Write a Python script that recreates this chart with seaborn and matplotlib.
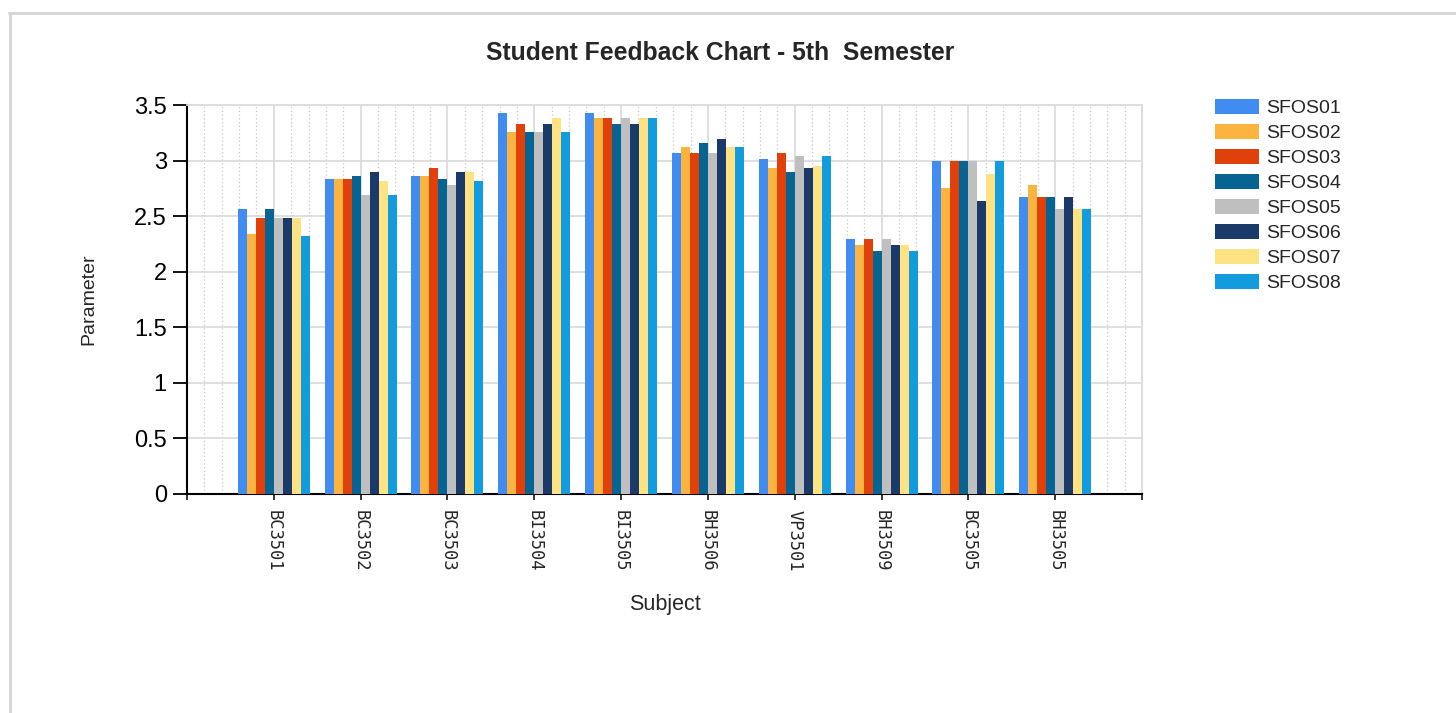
import pandas as pd
import matplotlib.pyplot as plt
import seaborn as sns
from matplotlib.lines import Line2D
from matplotlib.ticker import MultipleLocator, FormatStrFormatter

subjects = ["BC3501", "BC3502", "BC3503", "BI3504", "BI3505",
            "BH3506", "VP3501", "BH3509", "BC3505", "BH3505"]

series_names = ["SFOS01", "SFOS02", "SFOS03", "SFOS04",
                "SFOS05", "SFOS06", "SFOS07", "SFOS08"]

sfos01 = [2.56, 2.83, 2.86, 3.43, 3.43, 3.07, 3.01, 2.29, 3.00, 2.67]
sfos02 = [2.34, 2.83, 2.86, 3.26, 3.38, 3.12, 2.93, 2.24, 2.75, 2.78]
sfos03 = [2.48, 2.83, 2.93, 3.33, 3.38, 3.07, 3.07, 2.29, 3.00, 2.67]
sfos04 = [2.56, 2.86, 2.83, 3.26, 3.33, 3.16, 2.90, 2.19, 3.00, 2.67]
sfos05 = [2.48, 2.69, 2.78, 3.26, 3.38, 3.07, 3.04, 2.29, 3.00, 2.56]
sfos06 = [2.48, 2.90, 2.90, 3.33, 3.33, 3.19, 2.93, 2.24, 2.64, 2.67]
sfos07 = [2.48, 2.82, 2.90, 3.38, 3.38, 3.12, 2.95, 2.24, 2.88, 2.56]
sfos08 = [2.32, 2.69, 2.82, 3.26, 3.38, 3.12, 3.04, 2.19, 3.00, 2.56]

colors = ["#418CF0", "#FCB441", "#E0400A", "#056492",
          "#BFBFBF", "#1A3B69", "#FFE382", "#129CDD"]


def build_frame():
    all_values = [sfos01, sfos02, sfos03, sfos04, sfos05, sfos06, sfos07, sfos08]
    rows = []
    for name, values in zip(series_names, all_values):
        for subj, v in zip(subjects, values):
            rows.append({"Subject": subj, "Series": name, "Parameter": v})
    return pd.DataFrame(rows)


def draw(df):
    sns.set_style("white")
    plt.rcParams["font.family"] = ["Liberation Sans", "DejaVu Sans"]

    fig = plt.figure(figsize=(14.56, 7.13), dpi=100)
    ax = fig.add_axes([187 / 1456, 1 - 494 / 713, 955 / 1456, 389 / 713])

    sns.barplot(data=df, x="Subject", y="Parameter", hue="Series",
                order=subjects, hue_order=series_names, palette=colors,
                saturation=1, width=0.83, linewidth=0, errorbar=None,
                ax=ax, zorder=3)

    ax.set_xlim(-1, 10)
    ax.set_ylim(0, 3.5)

    # grid
    ax.yaxis.set_major_locator(MultipleLocator(0.5))
    ax.yaxis.set_major_formatter(FormatStrFormatter("%g"))
    ax.set_xticks(range(-1, 11))
    ax.set_xticklabels([""] + subjects + [""])
    ax.xaxis.set_minor_locator(MultipleLocator(0.2))
    ax.set_axisbelow(True)
    ax.grid(which="major", axis="both", color="#dcdcdc", linewidth=1.3, zorder=0)
    ax.grid(which="minor", axis="x", color="#c8c8c8", linestyle=(0, (1, 2)),
            linewidth=0.9, zorder=0)

    for side in ["left", "bottom"]:
        ax.spines[side].set_color("black")
        ax.spines[side].set_linewidth(1.5)
    for side in ["top", "right"]:
        ax.spines[side].set_color("#dcdcdc")
        ax.spines[side].set_linewidth(1.3)

    ax.tick_params(axis="y", which="major", direction="out", length=10, width=1.3,
                   labelsize=17, pad=4.5, left=True, colors="black")
    ax.tick_params(axis="x", which="major", direction="out", length=4.5, width=1.3,
                   pad=7, bottom=True)
    ax.tick_params(axis="x", which="minor", length=0)
    for lbl in ax.get_xticklabels():
        lbl.set_rotation(270)
        lbl.set_fontfamily("DejaVu Sans Mono")
        lbl.set_fontsize(12.3)
        lbl.set_va("top")
        lbl.set_ha("center")

    ax.set_xlabel("Subject", fontsize=15.5)
    ax.set_ylabel("Parameter", fontsize=14)
    ax.xaxis.set_label_coords(0.5, (494 - 594) / 389)
    ax.yaxis.set_label_coords((97 - 187) / 955, 0.5)

    fig.text(720 / 1456, 1 - 53 / 713, "Student Feedback Chart - 5th  Semester",
             ha="center", va="center", fontsize=17.8, fontweight="bold")

    ax.legend(loc="upper left", bbox_to_anchor=(1215 / 1456, 1 - 99 / 713),
              bbox_transform=fig.transFigure, frameon=False, fontsize=14,
              handlelength=2.25, handleheight=0.8, handletextpad=0.4,
              labelspacing=0.35, borderpad=0, borderaxespad=0)

    # light frame round the chart area
    fig.add_artist(Line2D([9 / 1456, 1], [1 - 13 / 713, 1 - 13 / 713],
                          transform=fig.transFigure, color="#d4d4d4", linewidth=2))
    fig.add_artist(Line2D([10 / 1456, 10 / 1456], [0, 1 - 13 / 713],
                          transform=fig.transFigure, color="#d4d4d4", linewidth=2))

    fig.savefig("out.png", dpi=100)
    plt.close(fig)


def main():
    df = build_frame()
    draw(df)


if __name__ == "__main__":
    main()
